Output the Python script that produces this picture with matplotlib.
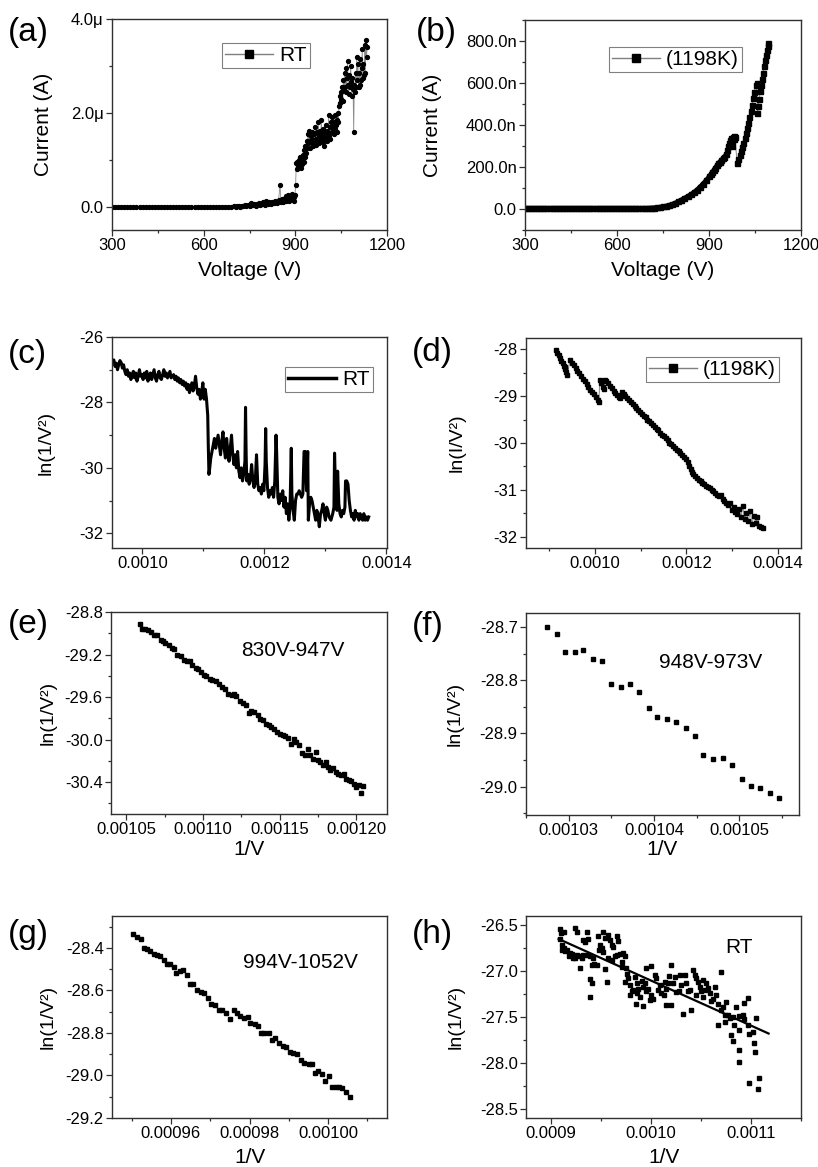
import numpy as np
import matplotlib
matplotlib.use("Agg")
import matplotlib.pyplot as plt
from matplotlib.lines import Line2D
from matplotlib.ticker import MultipleLocator, FormatStrFormatter, FuncFormatter

plt.rcParams['font.family'] = ['Liberation Sans', 'DejaVu Sans']
plt.rcParams['axes.unicode_minus'] = False

# ---------------- (a) RT, I-V  (current in uA)
a_volt = [300, 310, 320, 330, 340, 350, 360, 370, 380, 390,
          400, 410, 420, 430, 440, 450, 460, 470, 480, 490,
          500, 510, 520, 530, 540, 550, 560, 570, 580, 590,
          600, 610, 620, 630, 640, 650, 660, 670, 680, 690,
          700, 705, 710, 715, 720, 725, 730, 735, 740, 745,
          750, 755, 760, 765, 770, 775, 780, 785, 790, 795,
          800, 805, 810, 815, 820, 825, 830, 835, 840, 845,
          850, 853, 856, 859, 862, 865, 868, 871, 874, 877,
          880, 883, 886, 889, 892, 895, 897, 899,
          901, 903, 905, 907, 909, 911, 913, 915, 917, 919,
          921, 923, 925, 927, 929, 931, 933, 935, 937, 939,
          941, 943, 945, 947, 949, 951, 953, 955, 957, 959,
          961, 963, 965, 967, 969, 971, 973, 975, 977, 979,
          981, 983, 985, 987, 989, 991, 993, 995, 997, 999,
          1001, 1003, 1005, 1007, 1009, 1011, 1013, 1015, 1017, 1019,
          1021, 1023, 1025, 1027, 1029, 1031, 1033, 1035, 1037, 1039,
          1041, 1043, 1045, 1047, 1049, 1051, 1053, 1055, 1057, 1059,
          1061, 1063, 1065, 1067, 1069, 1071, 1073, 1075, 1077, 1079,
          1081, 1083, 1085, 1087, 1089, 1091, 1093, 1095, 1097, 1099,
          1101, 1103, 1105, 1107, 1109, 1111, 1113, 1115, 1117, 1119,
          1121, 1123, 1125, 1127, 1129, 1131, 1133, 1135]
a_curr = [0.0, 0.0, 0.0, 0.0, 0.0, 0.0, 0.0, 0.0, 0.0, 0.0,
          0.0, 0.0, 0.0, 0.0, 0.0, 0.0, 0.0, 0.0, 0.0, 0.0,
          0.0, 0.0, 0.0, 0.0, 0.0, 0.0, 0.0, 0.0, 0.0, 0.0,
          0.0, 0.0, 0.0, 0.0, 0.0, 0.0, 0.0, 0.0, 0.0, 0.0,
          0.01, 0.00, 0.02, 0.01, 0.00, 0.02, 0.01, 0.03, 0.01, 0.04,
          0.02, 0.07, 0.03, 0.05, 0.02, 0.05, 0.08, 0.03, 0.06, 0.09,
          0.04, 0.11, 0.06, 0.09, 0.05, 0.10, 0.07, 0.12, 0.08, 0.13,
          0.46, 0.10, 0.16, 0.09, 0.14, 0.19, 0.12, 0.22, 0.15, 0.24,
          0.11, 0.21, 0.16, 0.26, 0.13, 0.20, 0.12, 0.25,
          0.46, 0.92, 0.80, 0.95, 0.85, 1.00, 0.88, 1.05, 0.92, 0.82,
          1.00, 0.90, 1.10, 0.95, 1.20, 1.05, 1.30, 1.15, 1.40, 1.25,
          1.55, 1.35, 1.62, 1.40, 1.25, 1.50, 1.35, 1.60, 1.42, 1.30,
          1.55, 1.40, 1.70, 1.45, 1.32, 1.58, 1.42, 1.80, 1.50, 1.35,
          1.62, 1.45, 1.85, 1.55, 1.38, 1.65, 1.48, 1.30, 1.60, 1.75,
          1.45, 1.62, 1.40, 1.55, 1.95, 1.50, 1.70, 1.45, 1.80, 1.60,
          1.90, 1.70, 1.55, 1.80, 1.65, 1.95, 1.75, 1.60, 1.85, 2.00,
          1.80, 2.15, 2.35, 2.20, 2.45, 2.30, 2.55, 2.25, 2.70, 2.50,
          2.85, 2.55, 2.95, 2.45, 2.75, 3.10, 2.60, 2.40, 2.80, 2.55,
          3.00, 2.65, 2.35, 2.75, 2.50, 1.60, 2.60, 2.45, 2.85, 2.55,
          3.20, 2.70, 3.05, 2.55, 2.85, 2.60, 3.15, 2.70, 2.95, 3.35,
          2.75, 3.05, 2.80, 3.45, 2.85, 3.55, 3.20, 3.40]

# ---------------- (b) 1198K, I-V  (current in nA)
b_volt = [300, 310, 320, 330, 340, 350, 360, 370, 380, 390,
          400, 410, 420, 430, 440, 450, 460, 470, 480, 490,
          500, 510, 520, 530, 540, 550, 560, 570, 580, 590,
          600, 610, 620, 630, 640, 650, 660, 670, 680, 690, 700,
          710, 720, 730, 740, 750, 760, 770, 780, 790, 800,
          810, 820, 830, 840, 850, 860, 870, 880, 890, 900,
          905, 910, 915, 920, 925, 930, 935, 940, 945, 950,
          955, 960, 963, 966, 969, 972, 974, 976, 978, 980,
          982, 984, 992, 996, 1000, 1004, 1008, 1012, 1016, 1020,
          1024, 1028, 1032, 1036, 1040, 1044, 1048, 1052, 1055, 1058,
          1061, 1064, 1067, 1070, 1073, 1076, 1079, 1082, 1085, 1088,
          1091, 1094]
b_curr = [5, 5, 5, 5, 5, 5, 5, 5, 5, 5,
          5, 5, 5, 5, 5, 5, 5, 5, 5, 5,
          5, 5, 5, 5, 5, 5, 5, 5, 5, 5,
          5, 5, 5, 5, 5, 5, 5, 5, 5, 5, 5,
          6, 7, 8, 10, 12, 15, 19, 24, 30, 37,
          45, 53, 61, 70, 80, 92, 106, 121, 137, 155,
          165, 175, 186, 197, 208, 218, 226, 234, 242, 250,
          260, 280, 300, 315, 328, 340, 300, 322, 345, 332,
          350, 342, 221, 240, 258, 276, 296, 316, 338, 360,
          384, 410, 438, 466, 496, 528, 558, 590, 598, 455,
          490, 525, 560, 592, 620, 648, 680, 710, 735, 758,
          775, 790]

# ---------------- (c) RT, ln(I/V^2) vs 1/V  (1/V in 1e-6 /V)
c_inv_v = [951, 953, 955, 957, 959, 961, 963, 965, 967, 969,
           971, 973, 975, 977, 979, 981, 983, 985, 987, 989,
           991, 993, 995, 997, 999, 1001, 1003, 1005, 1007, 1009,
           1011, 1013, 1015, 1017, 1019, 1021, 1023, 1025, 1027, 1029,
           1031, 1033, 1035, 1037, 1039, 1041, 1043, 1045, 1047, 1049,
           1051, 1053, 1055, 1057, 1059, 1061, 1063, 1065, 1067, 1069,
           1071, 1073, 1075, 1077, 1079, 1081, 1083, 1085, 1087, 1089,
           1091, 1093, 1095, 1097, 1099, 1101, 1103, 1105, 1107, 1108,
           1109, 1110, 1112, 1114, 1116, 1118, 1120, 1122, 1124, 1126,
           1128, 1130, 1132, 1134, 1136, 1138, 1140, 1142, 1144, 1146,
           1148, 1150, 1152, 1154, 1156, 1158, 1160, 1162, 1164, 1166,
           1168, 1169, 1170, 1171, 1173, 1175, 1177, 1179, 1181, 1183,
           1185, 1187, 1189, 1191, 1193, 1195, 1197, 1199, 1201, 1202,
           1203, 1205, 1207, 1209, 1211, 1213, 1215, 1217, 1219, 1220,
           1222, 1224, 1226, 1228, 1230, 1232, 1234, 1236, 1238, 1240,
           1242, 1244, 1245, 1247, 1249, 1251, 1253, 1255, 1257, 1259,
           1261, 1263, 1265, 1267, 1269, 1271, 1272, 1274, 1276, 1278,
           1280, 1282, 1284, 1286, 1288, 1290, 1292, 1294, 1296, 1298,
           1300, 1302, 1304, 1306, 1309, 1312, 1314, 1315, 1317, 1319,
           1320, 1322, 1324, 1326, 1328, 1330, 1332, 1333, 1335, 1337,
           1339, 1341, 1343, 1345, 1347, 1349, 1351, 1353, 1355, 1357,
           1359, 1361, 1363, 1365, 1367, 1369, 1371]
c_ln = [-26.75, -26.70, -26.90, -26.80, -27.00, -26.85, -26.72, -26.78, -26.95, -26.85,
        -27.05, -27.15, -27.00, -27.20, -27.10, -27.30, -27.15, -27.05, -27.25, -27.10,
        -27.35, -27.20, -27.00, -27.20, -27.15, -27.30, -27.10, -27.25, -27.05, -27.35,
        -27.20, -27.10, -27.30, -27.15, -27.00, -27.25, -27.35, -27.15, -27.05, -27.25,
        -27.30, -27.15, -27.00, -27.20, -27.10, -27.25, -27.15, -27.05, -27.25, -27.20,
        -27.15, -27.30, -27.20, -27.35, -27.25, -27.40, -27.30, -27.45, -27.35, -27.50,
        -27.40, -27.60, -27.45, -27.70, -27.55, -27.40, -27.65, -27.50, -27.20, -27.55,
        -27.75, -27.60, -27.90, -27.70, -27.40, -27.90, -27.60, -27.90, -28.40, -29.40,
        -30.20, -30.05, -29.70, -29.50, -29.30, -29.10, -29.40, -29.20, -29.00, -29.30,
        -29.60, -29.20, -28.90, -29.40, -29.70, -29.10, -29.50, -29.80, -29.40, -29.00,
        -29.60, -29.90, -29.60, -30.00, -29.50, -30.10, -30.30, -30.00, -30.40, -30.20,
        -29.80, -28.15, -29.60, -30.40, -30.20, -30.50, -30.30, -29.90, -30.40, -30.60,
        -30.40, -29.60, -30.50, -30.70, -30.60, -30.80, -30.50, -30.70, -29.90, -28.80,
        -29.80, -30.60, -30.90, -30.70, -30.80, -30.60, -30.90, -30.40, -29.00, -29.50,
        -30.90, -31.10, -30.80, -31.00, -30.70, -31.20, -30.90, -31.40, -31.10, -31.60,
        -31.20, -29.40, -30.80, -31.30, -31.60, -31.00, -30.80, -30.80, -30.70, -30.80,
        -30.90, -30.80, -29.50, -29.50, -30.70, -29.50, -31.60, -31.10, -30.90, -31.00,
        -31.20, -31.40, -31.60, -31.30, -31.50, -31.80, -31.40, -31.30, -31.10, -31.40,
        -31.60, -31.20, -31.30, -31.50, -31.60, -31.40, -31.20, -29.55, -31.00, -31.30,
        -30.10, -31.10, -31.40, -31.50, -31.30, -31.40, -31.20, -30.40, -30.40, -30.50,
        -31.00, -31.30, -31.50, -31.40, -31.60, -31.30, -31.50, -31.40, -31.60, -31.40,
        -31.50, -31.60, -31.40, -31.60, -31.50, -31.60, -31.50]

# ---------------- (d) 1198K, ln(I/V^2) vs 1/V  (1/V in 1e-6 /V)
d_inv_v = [915, 918, 921, 924, 927, 930, 932, 934, 936, 938,
           940, 946, 950, 954, 958, 962, 966, 970, 974, 978,
           982, 986, 990, 994, 998, 1002, 1006, 1009, 1011, 1014,
           1017, 1020, 1022, 1025, 1029, 1033, 1037, 1041, 1045, 1049,
           1053, 1056, 1059, 1063, 1067, 1071, 1075, 1079, 1083, 1087,
           1091, 1095, 1099, 1103, 1107, 1111, 1115, 1119, 1123, 1127,
           1131, 1135, 1139, 1143, 1147, 1151, 1155, 1159, 1163, 1167,
           1171, 1175, 1179, 1183, 1187, 1191, 1195, 1199, 1203, 1206,
           1209, 1212, 1215, 1219, 1223, 1227, 1231, 1235, 1239, 1243,
           1247, 1251, 1255, 1259, 1263, 1267, 1271, 1275, 1279, 1283,
           1287, 1291, 1295, 1299, 1303, 1307, 1311, 1315, 1319, 1323,
           1327, 1331, 1335, 1339, 1343, 1347, 1351, 1355, 1359, 1363,
           1366]
d_ln = [-28.02, -28.07, -28.12, -28.18, -28.24, -28.30, -28.35, -28.42, -28.38, -28.48,
        -28.55, -28.23, -28.29, -28.34, -28.40, -28.46, -28.51, -28.57, -28.63, -28.68,
        -28.74, -28.80, -28.86, -28.91, -28.96, -29.02, -29.08, -29.12, -28.66, -28.71,
        -28.80, -28.84, -28.66, -28.68, -28.73, -28.78, -28.83, -28.88, -28.93, -28.97,
        -29.01, -29.03, -28.92, -28.96, -29.00, -29.05, -29.09, -29.12, -29.17, -29.21,
        -29.25, -29.30, -29.33, -29.38, -29.42, -29.45, -29.50, -29.54, -29.58, -29.61,
        -29.66, -29.70, -29.73, -29.78, -29.83, -29.86, -29.90, -29.94, -29.99, -30.02,
        -30.06, -30.10, -30.14, -30.18, -30.21, -30.26, -30.30, -30.35, -30.40, -30.48,
        -30.55, -30.62, -30.67, -30.70, -30.74, -30.78, -30.80, -30.85, -30.87, -30.91,
        -30.94, -30.96, -31.00, -31.03, -31.06, -31.10, -31.13, -31.10, -31.19, -31.23,
        -31.28, -31.33, -31.27, -31.42, -31.36, -31.47, -31.52, -31.40, -31.58, -31.35,
        -31.62, -31.50, -31.67, -31.45, -31.72, -31.55, -31.70, -31.58, -31.76, -31.79,
        -31.82]

# ---------------- (e) 830V-947V
e_inv_v = [1059.2, 1060.3, 1062.4, 1064.2, 1066.4, 1067.9, 1070.1, 1072.3, 1073.8, 1075.5,
           1077.7, 1079.5, 1081.0, 1083.2, 1085.4, 1087.6, 1089.3, 1091.3, 1093.0, 1095.2,
           1096.9, 1098.5, 1100.7, 1102.2, 1104.4, 1106.1, 1108.3, 1110.5, 1112.2, 1114.4,
           1116.6, 1118.8, 1120.3, 1121.8, 1124.0, 1125.8, 1128.0, 1129.7, 1131.2, 1133.4,
           1135.6, 1137.1, 1138.9, 1141.1, 1142.8, 1144.3, 1146.5, 1148.0, 1150.2, 1152.0,
           1153.7, 1155.2, 1157.4, 1159.6, 1160.7, 1162.9, 1164.6, 1166.2, 1168.3, 1169.9,
           1171.6, 1173.4, 1174.9, 1176.4, 1178.2, 1179.9, 1181.4, 1183.0, 1184.7, 1186.5,
           1188.0, 1190.2, 1191.7, 1193.4, 1195.2, 1196.7, 1198.3, 1200.0, 1201.7, 1203.3,
           1204.4]
e_ln = [-28.910, -28.957, -28.963, -28.973, -28.988, -29.020, -29.020, -29.067, -29.076, -29.089,
        -29.114, -29.136, -29.145, -29.202, -29.214, -29.255, -29.264, -29.264, -29.296, -29.327,
        -29.333, -29.365, -29.396, -29.402, -29.427, -29.443, -29.453, -29.475, -29.506, -29.522,
        -29.569, -29.584, -29.569, -29.591, -29.641, -29.653, -29.672, -29.747, -29.735, -29.741,
        -29.773, -29.804, -29.820, -29.851, -29.860, -29.882, -29.898, -29.929, -29.945, -29.961,
        -29.967, -29.986, -30.039, -29.992, -30.024, -30.049, -30.124, -30.143, -30.093, -30.149,
        -30.180, -30.118, -30.196, -30.212, -30.243, -30.212, -30.259, -30.290, -30.268, -30.306,
        -30.322, -30.337, -30.322, -30.369, -30.384, -30.394, -30.416, -30.447, -30.431, -30.504,
        -30.438]

# ---------------- (f) 948V-973V
f_inv_v = [1027.5, 1028.6, 1029.6, 1030.7, 1031.7, 1032.8, 1033.9, 1035.0, 1036.1, 1037.2,
           1038.3, 1039.4, 1040.4, 1041.5, 1042.6, 1043.7, 1044.8, 1045.8, 1046.9, 1048.1,
           1049.2, 1050.3, 1051.4, 1052.4, 1053.6, 1054.7]
f_ln = [-28.700, -28.714, -28.747, -28.747, -28.744, -28.760, -28.764, -28.808, -28.812, -28.808,
        -28.823, -28.852, -28.869, -28.873, -28.879, -28.890, -28.904, -28.941, -28.947, -28.946,
        -28.959, -28.985, -28.999, -29.003, -29.011, -29.022]

# ---------------- (g) 994V-1052V
g_inv_v = [950.3, 951.3, 952.3, 953.1, 953.9, 954.8, 955.6, 956.5, 957.1, 958.2,
           959.0, 959.8, 960.7, 961.3, 962.2, 963.0, 964.0, 964.9, 965.7, 966.7,
           967.6, 968.4, 969.5, 970.3, 971.2, 972.3, 973.1, 974.1, 975.1, 976.0,
           976.8, 977.6, 978.7, 979.6, 980.2, 981.3, 982.1, 982.9, 983.8, 984.9,
           985.7, 986.6, 987.6, 988.4, 989.4, 990.3, 991.1, 992.2, 993.0, 993.9,
           995.1, 996.0, 996.6, 997.5, 998.5, 999.3, 1000.2, 1001.0, 1002.0, 1002.7,
           1003.5, 1004.5, 1005.6]
g_ln = [-28.333, -28.348, -28.356, -28.400, -28.403, -28.414, -28.427, -28.434, -28.439, -28.455,
        -28.478, -28.478, -28.489, -28.516, -28.510, -28.502, -28.528, -28.568, -28.568, -28.599,
        -28.607, -28.611, -28.635, -28.666, -28.669, -28.693, -28.693, -28.708, -28.735, -28.693,
        -28.708, -28.719, -28.729, -28.724, -28.752, -28.759, -28.768, -28.798, -28.802, -28.802,
        -28.831, -28.823, -28.849, -28.860, -28.865, -28.888, -28.896, -28.899, -28.928, -28.940,
        -28.948, -28.948, -28.987, -28.978, -28.993, -29.024, -29.003, -29.053, -29.056, -29.056,
        -29.061, -29.076, -29.100]

# ---------------- (h) RT scatter + fit
h_inv_v = [908.6, 910.0, 912.6, 924.2, 925.9, 935.8, 931.8, 934.2, 937.5, 947.4,
           952.4, 954.1, 957.4, 959.0, 965.7, 967.3, 960.7, 962.4, 949.1, 950.7,
           948.4, 952.4, 909.3, 910.9, 912.6, 914.3, 915.9, 918.6, 920.9, 922.6,
           924.2, 926.5, 928.5, 930.8, 932.5, 935.8, 910.9, 917.6, 921.9, 929.2,
           939.1, 942.5, 943.1, 945.8, 940.8, 954.1, 957.4, 960.7, 964.0, 966.3,
           969.0, 972.3, 974.0, 970.7, 970.7, 975.0, 939.1, 940.8, 939.1, 955.7,
           976.3, 977.3, 974.0, 978.9, 983.9, 985.6, 982.3, 978.9, 980.6, 985.6,
           988.9, 987.2, 992.2, 990.6, 993.9, 995.5, 997.2, 1000.5, 1002.2, 998.8,
           984.9, 992.2, 995.5, 1000.5, 1003.8, 1005.5, 1008.8, 1007.1, 1010.5, 1012.8,
           1015.4, 1017.1, 1013.8, 1018.1, 1020.4, 1022.1, 1024.7, 1028.0, 1023.7, 1028.7,
           1030.4, 1033.7, 1035.3, 1037.0, 1038.6, 1032.0, 1040.3, 1015.4, 1020.4, 1042.0,
           1043.6, 1045.3, 1046.9, 1048.6, 1050.3, 1045.3, 1051.9, 1053.6, 1055.2, 1056.9,
           1058.6, 1061.9, 1063.5, 1065.2, 1060.2, 1051.9, 1070.2, 1066.8, 1070.2, 1071.8,
           1075.1, 1073.5, 1076.8, 1078.5, 1066.8, 1073.5, 1081.8, 1085.1, 1088.4, 1091.7,
           1093.4, 1096.7, 1093.4, 1083.4, 1088.4, 1096.7, 1098.4, 1101.7, 1105.0, 1080.1,
           1081.8, 1088.4, 1087.7, 1103.3, 1104.3, 1098.4, 1108.3, 1106.6]
h_ln = [-26.54, -26.59, -26.57, -26.53, -26.57, -26.57, -26.66, -26.68, -26.65, -26.62,
        -26.57, -26.64, -26.61, -26.66, -26.62, -26.67, -26.72, -26.74, -26.72, -26.75,
        -26.77, -26.79, -26.65, -26.72, -26.75, -26.78, -26.77, -26.80, -26.81, -26.84,
        -26.86, -26.83, -26.84, -26.86, -26.83, -26.82, -26.77, -26.84, -26.86, -26.97,
        -26.84, -26.86, -26.92, -26.93, -26.93, -26.98, -26.86, -26.88, -26.84, -26.83,
        -26.81, -26.80, -26.84, -26.90, -26.95, -26.97, -27.09, -27.13, -27.28, -27.12,
        -27.03, -27.08, -27.12, -27.15, -27.06, -27.13, -27.21, -27.26, -27.22, -27.24,
        -27.28, -27.19, -27.17, -27.11, -27.13, -27.22, -27.19, -27.26, -27.30, -27.32,
        -27.36, -27.38, -26.97, -26.94, -27.04, -27.08, -27.15, -27.21, -27.24, -27.26,
        -27.20, -27.13, -27.12, -27.05, -26.93, -27.13, -27.23, -27.22, -27.06, -27.04,
        -27.15, -27.04, -27.13, -27.22, -27.21, -27.47, -27.42, -27.37, -27.37, -26.99,
        -27.04, -27.08, -27.12, -27.17, -27.22, -27.26, -27.28, -27.21, -27.13, -27.18,
        -27.24, -27.30, -27.17, -27.26, -27.33, -27.10, -27.01, -27.36, -27.42, -27.39,
        -27.34, -27.48, -27.48, -27.51, -27.59, -27.55, -27.50, -27.39, -27.49, -27.48,
        -27.52, -27.29, -27.35, -27.59, -27.64, -27.59, -27.68, -27.66, -27.51, -27.70,
        -27.76, -27.86, -27.99, -27.78, -27.88, -28.22, -28.16, -28.28]
h_fit_inv_v = [907.6, 1117.6]
h_fit_ln = [-26.65, -27.68]

E6 = 1e-6
W, H = 818, 1167
fig = plt.figure(figsize=(W / 100, H / 100), dpi=100)
AX_COLOR = '#303030'


def panel(left, top, right, bottom):
    ax = fig.add_axes([left / W, 1 - bottom / H, (right - left) / W, (bottom - top) / H])
    for s in ax.spines.values():
        s.set_linewidth(1.0)
        s.set_color(AX_COLOR)
    ax.tick_params(which='both', direction='out', top=False, right=False,
                   labelsize=12, width=0.9, color=AX_COLOR, pad=2)
    ax.tick_params(which='major', length=4)
    ax.tick_params(which='minor', length=2.5)
    return ax


def ticks(ax, xmaj, xmin, ymaj, ymin, xfmt, yfmt):
    ax.xaxis.set_major_locator(MultipleLocator(xmaj))
    ax.xaxis.set_minor_locator(MultipleLocator(xmin))
    ax.yaxis.set_major_locator(MultipleLocator(ymaj))
    ax.yaxis.set_minor_locator(MultipleLocator(ymin))
    ax.xaxis.set_major_formatter(xfmt)
    ax.yaxis.set_major_formatter(yfmt)


def legend(ax, handle, label, x, y):
    leg = ax.legend([handle], [label], loc='upper left', bbox_to_anchor=(x, y),
                    fontsize=15, frameon=True, fancybox=False, edgecolor='#808080',
                    framealpha=1, handlelength=2.3, handletextpad=0.3,
                    borderpad=0.15, borderaxespad=0)
    leg.get_frame().set_linewidth(0.8)


def tag(x, y, s):
    fig.text(x / W, 1 - y / H, s, fontsize=24, ha='left', va='center')


marker_handle = Line2D([], [], color='#7f7f7f', lw=1.0, marker='s', ms=6,
                       mfc='black', mec='black')
line_handle = Line2D([], [], color='black', lw=2.5)

# (a)
ax = panel(112, 19, 387, 230)
ax.plot(a_volt, a_curr, color='#8a8a8a', lw=0.6, marker='o', ms=2.8,
        mfc='black', mec='black')
ax.set_xlim(300, 1200)
ax.set_ylim(-0.5, 4.0)
ticks(ax, 300, 150, 2.0, 1.0, FormatStrFormatter('%d'),
      FuncFormatter(lambda v, p: '0.0' if abs(v) < 1e-9 else f'{v:.1f}\u03bc'))
ax.set_xlabel('Voltage (V)', fontsize=15)
ax.set_ylabel('Current (A)', fontsize=15)
ax.xaxis.set_label_coords(0.5, -0.147)
ax.yaxis.set_label_coords(-0.215, 0.5)
legend(ax, marker_handle, 'RT', 0.40, 0.886)
tag(8, 33, '(a)')

# (b)
ax = panel(525, 20, 801, 230)
b_v = np.array(b_volt)
b_i = np.array(b_curr)
smooth = b_v <= 955
ax.plot(b_v[smooth], b_i[smooth], color='black', lw=3.0)
ax.plot(b_v, b_i, color='#8a8a8a', lw=0.7, marker='s', ms=3.6,
        mfc='black', mec='black')
ax.set_xlim(300, 1200)
ax.set_ylim(-100, 900)
ticks(ax, 300, 150, 200, 100, FormatStrFormatter('%d'),
      FuncFormatter(lambda v, p: '0.0' if abs(v) < 1e-9 else f'{v:.1f}n'))
ax.set_xlabel('Voltage (V)', fontsize=15)
ax.set_ylabel('Current (A)', fontsize=15)
ax.xaxis.set_label_coords(0.5, -0.147)
ax.yaxis.set_label_coords(-0.30, 0.5)
legend(ax, marker_handle, '(1198K)', 0.304, 0.871)
tag(416, 33, '(b)')

# (c)
ax = panel(112, 337, 387, 548)
ax.plot(np.array(c_inv_v) * E6, c_ln, color='black', lw=2.2)
ax.set_xlim(0.00095, 0.001401)
ax.set_ylim(-32.45, -26.0)
ticks(ax, 0.0002, 0.0001, 2, 1, FormatStrFormatter('%.4f'), FormatStrFormatter('%d'))
ax.set_ylabel('ln(1/V\u00b2)', fontsize=14)
ax.yaxis.set_label_coords(-0.207, 0.5)
legend(ax, line_handle, 'RT', 0.629, 0.858)
tag(8, 354, '(c)')

# (d)
ax = panel(526, 338, 801, 548)
ax.plot(np.array(d_inv_v) * E6, d_ln, color='#8a8a8a', lw=0.7, marker='s', ms=3.2,
        mfc='black', mec='black')
ax.set_xlim(0.00085, 0.00145)
ax.set_ylim(-32.24, -27.76)
ticks(ax, 0.0002, 0.0001, 1, 0.5, FormatStrFormatter('%.4f'), FormatStrFormatter('%d'))
ax.set_ylabel('ln(I/V\u00b2)', fontsize=14)
ax.yaxis.set_label_coords(-0.218, 0.5)
legend(ax, marker_handle, '(1198K)', 0.436, 0.91)
tag(412, 352, '(d)')

# (e)
ax = panel(111, 612, 387, 814)
ax.plot(np.array(e_inv_v) * E6, e_ln, linestyle='none', marker='s', ms=2.6, color='black')
ax.set_xlim(0.00104, 0.00122)
ax.set_ylim(-30.7, -28.8)
ticks(ax, 0.00005, 0.000025, 0.4, 0.2, FormatStrFormatter('%.5f'), FormatStrFormatter('%.1f'))
ax.set_xlabel('1/V', fontsize=15)
ax.set_ylabel('ln(1/V\u00b2)', fontsize=14)
ax.xaxis.set_label_coords(0.5, -0.13)
ax.yaxis.set_label_coords(-0.196, 0.5)
ax.text(0.659, 0.807, '830V-947V', transform=ax.transAxes, fontsize=15,
        ha='center', va='center')
tag(8, 624, '(e)')

# (f)
ax = panel(526, 613, 799, 815)
ax.plot(np.array(f_inv_v) * E6, f_ln, linestyle='none', marker='s', ms=2.8, color='black')
ax.set_xlim(0.001025, 0.001057)
ax.set_ylim(-29.053, -28.674)
ticks(ax, 0.00001, 0.000005, 0.1, 0.05, FormatStrFormatter('%.5f'), FormatStrFormatter('%.1f'))
ax.set_xlabel('1/V', fontsize=15)
ax.set_ylabel('ln(1/V\u00b2)', fontsize=14)
ax.xaxis.set_label_coords(0.5, -0.125)
ax.yaxis.set_label_coords(-0.227, 0.5)
ax.text(0.678, 0.757, '948V-973V', transform=ax.transAxes, fontsize=15,
        ha='center', va='center')
tag(412, 627, '(f)')

# (g)
ax = panel(112, 916, 387, 1118)
ax.plot(np.array(g_inv_v) * E6, g_ln, linestyle='none', marker='s', ms=2.8, color='black')
ax.set_xlim(0.000945, 0.001015)
ax.set_ylim(-29.2, -28.25)
ticks(ax, 0.00002, 0.00001, 0.2, 0.1, FormatStrFormatter('%.5f'), FormatStrFormatter('%.1f'))
ax.set_xlabel('1/V', fontsize=15)
ax.set_ylabel('ln(1/V\u00b2)', fontsize=14)
ax.xaxis.set_label_coords(0.5, -0.148)
ax.yaxis.set_label_coords(-0.2, 0.5)
ax.text(0.684, 0.772, '994V-1052V', transform=ax.transAxes, fontsize=15,
        ha='center', va='center')
tag(8, 935, '(g)')

# (h)
ax = panel(526, 916, 801, 1118)
ax.plot(np.array(h_inv_v) * E6, h_ln, linestyle='none', marker='s', ms=2.8, color='black')
ax.plot(np.array(h_fit_inv_v) * E6, h_fit_ln, color='black', lw=1.6)
ax.set_xlim(0.000875, 0.00115)
ax.set_ylim(-28.6, -26.4)
ticks(ax, 0.0001, 0.00005, 0.5, 0.25, FormatStrFormatter('%.4f'), FormatStrFormatter('%.1f'))
ax.set_xlabel('1/V', fontsize=15)
ax.set_ylabel('ln(1/V\u00b2)', fontsize=14)
ax.xaxis.set_label_coords(0.5, -0.148)
ax.yaxis.set_label_coords(-0.225, 0.5)
ax.text(0.775, 0.842, 'RT', transform=ax.transAxes, fontsize=15,
        ha='center', va='center')
tag(412, 935, '(h)')

fig.savefig('out.png', dpi=100)
